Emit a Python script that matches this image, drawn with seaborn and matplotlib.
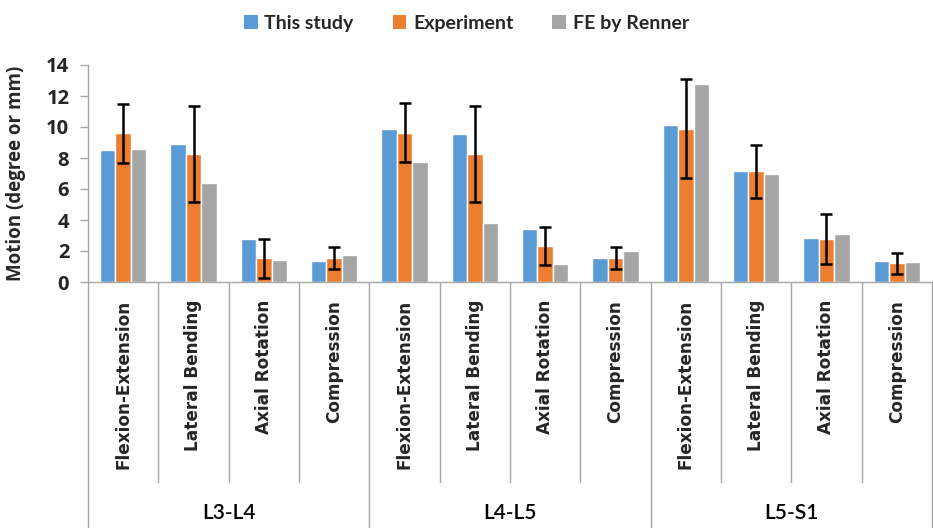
import numpy as np
import pandas as pd
import seaborn as sns
import matplotlib
matplotlib.use("Agg")
import matplotlib.pyplot as plt
from matplotlib.transforms import blended_transform_factory
from matplotlib.patches import Patch

segments = ["L3-L4", "L4-L5", "L5-S1"]
motions = ["Flexion-Extension", "Lateral Bending", "Axial Rotation", "Compression"]
series = ["This study", "Experiment", "FE by Renner"]
this_study = [8.53, 8.9, 2.78, 1.34, 9.9, 9.56, 3.42, 1.53, 10.12, 7.19, 2.84, 1.34]
experiment = [9.6, 8.25, 1.53, 1.53, 9.62, 8.25, 2.32, 1.53, 9.9, 7.13, 2.78, 1.2]
fe_renner = [8.6, 6.4, 1.42, 1.74, 7.73, 3.8, 1.18, 2.0, 12.8, 7.0, 3.08, 1.27]
experiment_sd = [1.9, 3.1, 1.25, 0.7, 1.9, 3.1, 1.25, 0.7, 3.2, 1.68, 1.6, 0.7]
yticks = [0, 2, 4, 6, 8, 10, 12, 14]
colors = ["#5B9BD5", "#ED7D31", "#A5A5A5"]

keys = [f"{s}|{m}" for s in segments for m in motions]
rows = []
for name, vals in zip(series, [this_study, experiment, fe_renner]):
    for k, v in zip(keys, vals):
        rows.append({"key": k, "series": name, "value": v})
df = pd.DataFrame(rows)

sns.set_theme(style="white")
W, H = 933, 528
fig = plt.figure(figsize=(W / 100, H / 100), dpi=100)
ax = fig.add_axes([88 / W, (H - 282) / H, (932 - 88) / W, (282 - 65) / H])

sns.barplot(data=df, x="key", y="value", hue="series", order=keys, hue_order=series,
            palette=colors, width=0.66, saturation=1, errorbar=None, ax=ax, legend=False)

# error bars on Experiment
cont = ax.containers[1]
xs = [p.get_x() + p.get_width() / 2 for p in cont]
ax.errorbar(xs, experiment, yerr=experiment_sd, fmt="none", ecolor="black",
            elinewidth=1.8, capsize=4.5, capthick=1.8, zorder=5)

ax.set_ylim(0, 14)
ax.set_xlim(-0.5, len(keys) - 0.5)
ax.set_yticks(yticks)
ax.set_yticklabels([str(t) for t in yticks], fontfamily="Open Sans", fontweight="bold", fontsize=14.5)
ax.set_xticks(range(len(keys)))
ax.set_xticklabels([k.split("|")[1] for k in keys], rotation=90, fontfamily="DejaVu Sans",
                   fontweight="bold", fontsize=12.2, va="top", ha="center")
ax.tick_params(axis="x", length=0, pad=13)
ax.tick_params(axis="y", length=5.5, width=1, color="#A6A6A6", pad=8, left=True)
ax.set_xlabel("")
ax.set_ylabel("Motion (degree or mm)", fontfamily="Open Sans", fontweight="bold", fontsize=13.5, labelpad=6)
ax.yaxis.set_label_coords(-62 / (932 - 88), 0.5)

for side in ["top", "right"]:
    ax.spines[side].set_visible(False)
for side in ["left", "bottom"]:
    ax.spines[side].set_color("#A6A6A6")
    ax.spines[side].set_linewidth(1)

# category axis structure lines
tr = blended_transform_factory(ax.transData, fig.transFigure)
y_axis_fig = (H - 282) / H
y_sub = (H - 482) / H
for i in range(len(keys) + 1):
    x = i - 0.5
    if i % 4 == 0:
        ax.plot([x, x], [y_axis_fig, 0], transform=tr, color="#A6A6A6", lw=1, clip_on=False)
    else:
        ax.plot([x, x], [y_axis_fig, y_sub], transform=tr, color="#A6A6A6", lw=1, clip_on=False)
for gi, seg in enumerate(segments):
    ax.text(gi * 4 + 1.5, (H - 513) / H, seg, transform=tr, ha="center", va="center",
            fontfamily="Lato", fontsize=15, fontweight="semibold", color="black")

handles = [Patch(facecolor=c, edgecolor="none") for c in colors]
fig.legend(handles, series, loc="upper center", bbox_to_anchor=(0.5, 1.005), ncol=3,
           frameon=False, handlelength=0.7, handleheight=0.7, handletextpad=0.35,
           columnspacing=2.0, prop={"family": "Lato", "weight": "bold", "size": 14})

fig.savefig("out.png", dpi=100)
